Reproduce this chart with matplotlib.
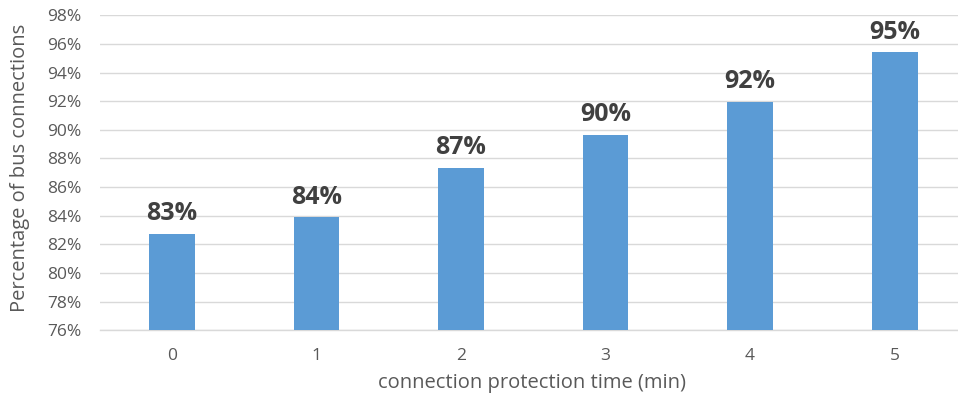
import numpy as np
from matplotlib import pyplot as plt
from matplotlib.ticker import FuncFormatter

# data
times = ["0", "1", "2", "3", "4", "5"]
share = [82.72, 83.9, 87.33, 89.64, 91.96, 95.41]   # percent of bus connections

plt.rcParams['font.family'] = ['Open Sans', 'DejaVu Sans']

W, H = 958, 395
L, R, T, B = 99.5, 967.0, 15.3, 330.3   # plot area in pixels (right side is cropped)
fig = plt.figure(figsize=(W / 100, H / 100), dpi=100)
ax = fig.add_axes([L / W, 1 - B / H, (R - L) / W, (B - T) / H])

x = np.arange(len(times))
ax.bar(x, np.array(share) - 76, bottom=76, width=0.316, color='#5B9BD5', zorder=3)

for xi, v in zip(x, share):
    ax.text(xi, v + 0.95, f"{v:.0f}%", ha='center', va='baseline',
            fontsize=18, fontweight='bold', color='#404040', zorder=4)

ax.set_xlim(-0.5, 5.5)
ax.set_ylim(76, 98)
ax.set_yticks(np.arange(76, 99, 2))
ax.yaxis.set_major_formatter(FuncFormatter(lambda v, p: f"{v:.0f}%"))
ax.set_xticks(x)
ax.set_xticklabels(times)

ax.grid(axis='y', color='#D9D9D9', linewidth=1.0, zorder=0)
for s in ['top', 'right', 'left']:
    ax.spines[s].set_visible(False)
ax.spines['bottom'].set_color('#D9D9D9')
ax.spines['bottom'].set_linewidth(1.0)
ax.tick_params(length=0, labelsize=12.5, labelcolor='#595959')
ax.tick_params(axis='x', pad=13)
ax.tick_params(axis='y', pad=13)

ax.set_ylabel("Percentage of bus connections", fontsize=14.5, color='#595959', va='center')
ax.set_xlabel("connection protection time (min)", fontsize=14.5, color='#595959', va='center')
ax.yaxis.set_label_coords(-(L - 20) / (R - L), 0.5 - (168 - (T + B) / 2) / (B - T))
ax.xaxis.set_label_coords((532 - L) / (R - L), -(383 - B) / (B - T))

fig.savefig('out.png', dpi=100)
